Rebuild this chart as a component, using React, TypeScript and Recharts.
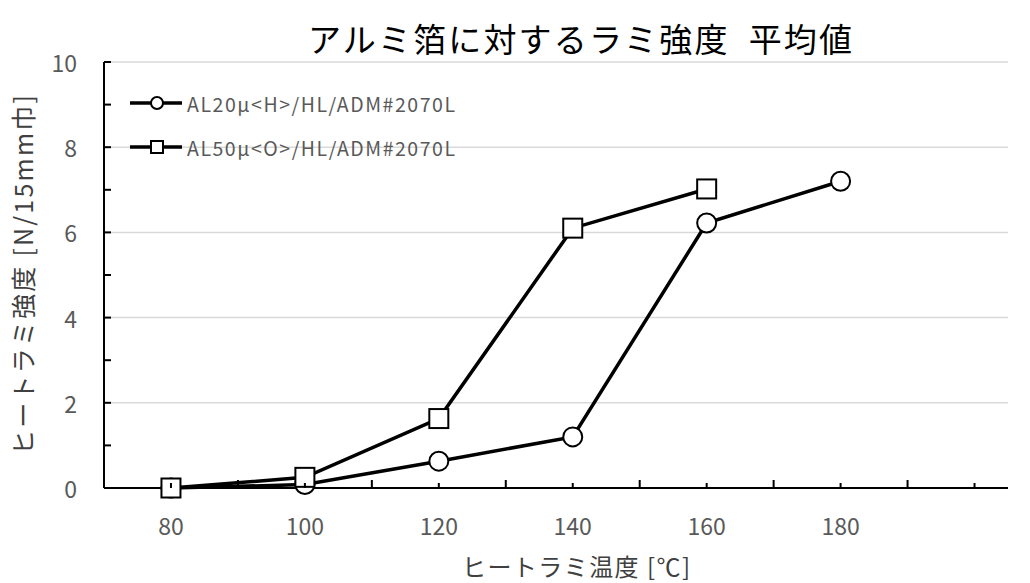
import React from 'react';
import { LineChart, Line, XAxis, YAxis, CartesianGrid } from 'recharts';

const temps = [80, 100, 120, 140, 160, 180];
const al20 = [0, 0.08, 0.63, 1.2, 6.22, 7.2];
const al50 = [0, 0.25, 1.63, 6.1, 7.02];

const xTicks = [80, 90, 100, 110, 120, 130, 140, 150, 160, 170, 180, 190, 200];
const xLabels = [80, 100, 120, 140, 160, 180];
const yTicks = [0, 1, 2, 3, 4, 5, 6, 7, 8, 9, 10];
const yLabels = [0, 2, 4, 6, 8, 10];
const gridValues = [2, 4, 6, 8, 10];

const seriesNames = ['AL20μ<H>/HL/ADM#2070L', 'AL50μ<O>/HL/ADM#2070L'];

const FONT = '"Noto Sans CJK JP", "Noto Sans", sans-serif';
const GRAY = '#595959';

const data = temps.map((t, i) => ({ temp: t, al20: al20[i], al50: al50[i] }));

const CircleDot = (props: any) => {
  const { cx, cy, key } = props;
  if (cx == null || cy == null) return <g key={key} />;
  return <circle key={key} cx={cx} cy={cy} r={9.5} fill="#fff" stroke="#000" strokeWidth={2} />;
};

const SquareDot = (props: any) => {
  const { cx, cy, key } = props;
  if (cx == null || cy == null) return <g key={key} />;
  return <rect key={key} x={cx - 9.5} y={cy - 9.5} width={19} height={19} fill="#fff" stroke="#000" strokeWidth={2} />;
};

const XTick = ({ x, y, payload }: any) => {
  const v = payload.value;
  const len = v % 20 === 10 ? 8 : 5;
  return (
    <g>
      <line x1={x} x2={x} y1={y} y2={y - len} stroke="#000" strokeWidth={2} />
      {xLabels.includes(v) && (
        <text x={x} y={y + 37} textAnchor="middle" dominantBaseline="central" fill={GRAY} fontSize={23} fontFamily={FONT}>
          {v}
        </text>
      )}
    </g>
  );
};

const YTick = ({ x, y, payload }: any) => {
  const v = payload.value;
  return (
    <g>
      <line x1={x} x2={x + 7} y1={y} y2={y} stroke="#000" strokeWidth={2} />
      {yLabels.includes(v) && (
        <text x={x - 27} y={y} textAnchor="end" dominantBaseline="central" fill={GRAY} fontSize={23} fontFamily={FONT}>
          {v}
        </text>
      )}
    </g>
  );
};

// title and legend drawn as an overlay so the legend does not take space from the plot
const Overlay = () => (
  <svg width={1030} height={583} style={{ position: 'absolute', left: 0, top: 0, pointerEvents: 'none' }}>
    <text
      x={308}
      y={38}
      dominantBaseline="central"
      fontSize={33}
      fontFamily={FONT}
      fill="#000"
      textLength={544}
      lengthAdjust="spacing"
      style={{ whiteSpace: 'pre' }}
    >
      {'アルミ箔に対するラミ強度  平均値'}
    </text>
    {seriesNames.map((name, i) => {
      const y = 103 + i * 44;
      return (
        <g key={name}>
          <line x1={130} x2={182} y1={y} y2={y} stroke="#000" strokeWidth={3.5} />
          {i === 0 ? (
            <circle cx={157} cy={y} r={6} fill="#fff" stroke="#000" strokeWidth={2} />
          ) : (
            <rect x={151} y={y - 6} width={12} height={12} fill="#fff" stroke="#000" strokeWidth={2} />
          )}
          <text
            x={187}
            y={y}
            dominantBaseline="central"
            fontSize={19.5}
            fontFamily={FONT}
            fill={GRAY}
            textLength={268}
            lengthAdjust="spacing"
          >
            {name}
          </text>
        </g>
      );
    })}
  </svg>
);

export default function App() {
  return (
    <div style={{ position: 'absolute', left: 0, top: 0, width: 1030, height: 583, background: '#fff', fontFamily: FONT }}>
      <LineChart width={1030} height={583} data={data} margin={{ top: 62, right: 22, bottom: 0, left: 0 }}>
        <CartesianGrid vertical={false} horizontalValues={gridValues} stroke="#d9d9d9" strokeWidth={1.5} />
        <XAxis
          dataKey="temp"
          type="number"
          domain={[70, 205]}
          ticks={xTicks}
          interval={0}
          allowDataOverflow
          height={95}
          tickSize={0}
          tickMargin={0}
          tickLine={false}
          axisLine={{ stroke: '#000', strokeWidth: 2 }}
          tick={<XTick />}
          label={{
            content: () => (
              <text
                x={462}
                y={565}
                dominantBaseline="central"
                fill="#404040"
                fontSize={24}
                fontFamily={FONT}
                textLength={228}
                lengthAdjust="spacing"
              >
                ヒートラミ温度 [℃]
              </text>
            ),
          }}
        />
        <YAxis
          type="number"
          domain={[0, 10]}
          ticks={yTicks}
          interval={0}
          width={104}
          tickSize={0}
          tickMargin={0}
          tickLine={false}
          axisLine={{ stroke: '#000', strokeWidth: 2 }}
          tick={<YTick />}
          label={{
            content: () => (
              <text
                x={22}
                y={455}
                transform="rotate(-90 22 455)"
                dominantBaseline="central"
                fill="#404040"
                fontSize={25}
                fontFamily={FONT}
                textLength={360}
                lengthAdjust="spacing"
              >
                ヒートラミ強度 [N/15mm巾]
              </text>
            ),
          }}
        />
        <Line
          dataKey="al20"
          name={seriesNames[0]}
          type="linear"
          stroke="#000"
          strokeWidth={3.5}
          dot={CircleDot}
          activeDot={false}
          isAnimationActive={false}
        />
        <Line
          dataKey="al50"
          name={seriesNames[1]}
          type="linear"
          stroke="#000"
          strokeWidth={3.5}
          dot={SquareDot}
          activeDot={false}
          isAnimationActive={false}
        />
      </LineChart>
      <Overlay />
    </div>
  );
}
